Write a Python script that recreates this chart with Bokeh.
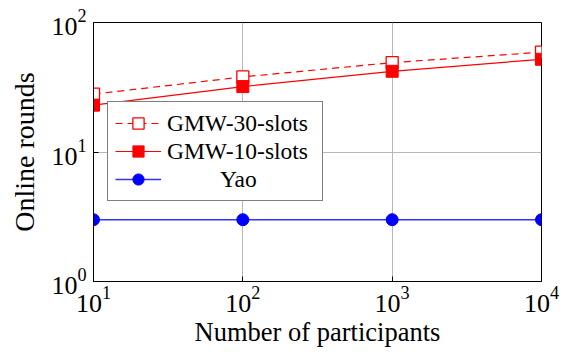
from bokeh.plotting import figure
from bokeh.models import Range1d, FixedTicker, Legend, LegendItem
from bokeh.embed import file_html
from bokeh.resources import INLINE

participants = [10, 100, 1000, 10000]
gmw30 = [28, 38, 49, 59]
gmw10 = [23, 32, 42, 52]
yao = [3, 3, 3, 3]
x_ticks = [10, 100, 1000, 10000]
y_ticks = [1, 10, 100]
labels = ["GMW-30-slots", "GMW-10-slots", "Yao"]

FONT = "Liberation Serif"

p = figure(width=566, height=352, x_axis_type="log", y_axis_type="log",
           x_range=Range1d(10, 10000), y_range=Range1d(1, 100),
           output_backend="svg", toolbar_location=None,
           min_border_left=93, min_border_right=25, min_border_top=22, min_border_bottom=71)

p.outline_line_color = "black"
p.outline_line_alpha = 1
p.outline_line_width = 1
p.background_fill_color = "white"
p.border_fill_color = "white"

for ax in (p.xaxis[0], p.yaxis[0]):
    ax.axis_line_color = "black"
    ax.major_tick_in = 5
    ax.major_tick_out = 0
    ax.minor_tick_in = 0
    ax.minor_tick_out = 0
    ax.major_label_text_font = FONT
    ax.major_label_text_font_size = "26px"
    ax.major_label_text_font_style = "normal"
    ax.major_label_text_color = "black"
    ax.axis_label_text_font = FONT
    ax.axis_label_text_font_style = "normal"
    ax.axis_label_text_color = "black"

p.xaxis.axis_label_text_font_size = "26.5px"
p.yaxis.axis_label_text_font_size = "28px"
p.xaxis.ticker = FixedTicker(ticks=x_ticks)
p.yaxis.ticker = FixedTicker(ticks=y_ticks)
p.xaxis.axis_label = "Number of participants"
p.yaxis.axis_label = "Online rounds"
p.xaxis.major_label_standoff = 5
p.yaxis.major_label_standoff = 7
p.xaxis.axis_label_standoff = 2
p.yaxis.axis_label_standoff = 8

p.xgrid.ticker = FixedTicker(ticks=x_ticks)
p.ygrid.ticker = FixedTicker(ticks=y_ticks)
p.grid.grid_line_color = "#b8b8b8"
p.grid.grid_line_width = 1

r30l = p.line(participants, gmw30, color="red", line_width=1.2, line_dash="7 5")
r30m = p.scatter(participants, gmw30, marker="square", size=12, line_color="red",
                 fill_color="white", line_width=1.3)
r10l = p.line(participants, gmw10, color="red", line_width=1.2)
r10m = p.scatter(participants, gmw10, marker="square", size=12, line_color="red",
                 fill_color="red")
ryl = p.line(participants, yao, color="#3333ff", line_width=1.4)
rym = p.scatter(participants, yao, marker="circle", size=12, line_color="blue",
                fill_color="blue")

nb = "\u00a0" * 9
legend = Legend(items=[
    LegendItem(label=labels[0], renderers=[r30l, r30m]),
    LegendItem(label=labels[1], renderers=[r10l, r10m]),
    LegendItem(label=nb + labels[2], renderers=[ryl, rym]),
], location=(14, 80), glyph_width=46, glyph_height=28, label_height=28,
   label_width=148, label_standoff=6, padding=7, spacing=0, margin=0,
   border_line_color="black", border_line_width=1, background_fill_alpha=1,
   label_text_font=FONT, label_text_font_size="23.5px", label_text_font_style="normal",
   label_text_color="black")
p.add_layout(legend, "center")

open("out.html", "w").write(file_html(p, INLINE))
